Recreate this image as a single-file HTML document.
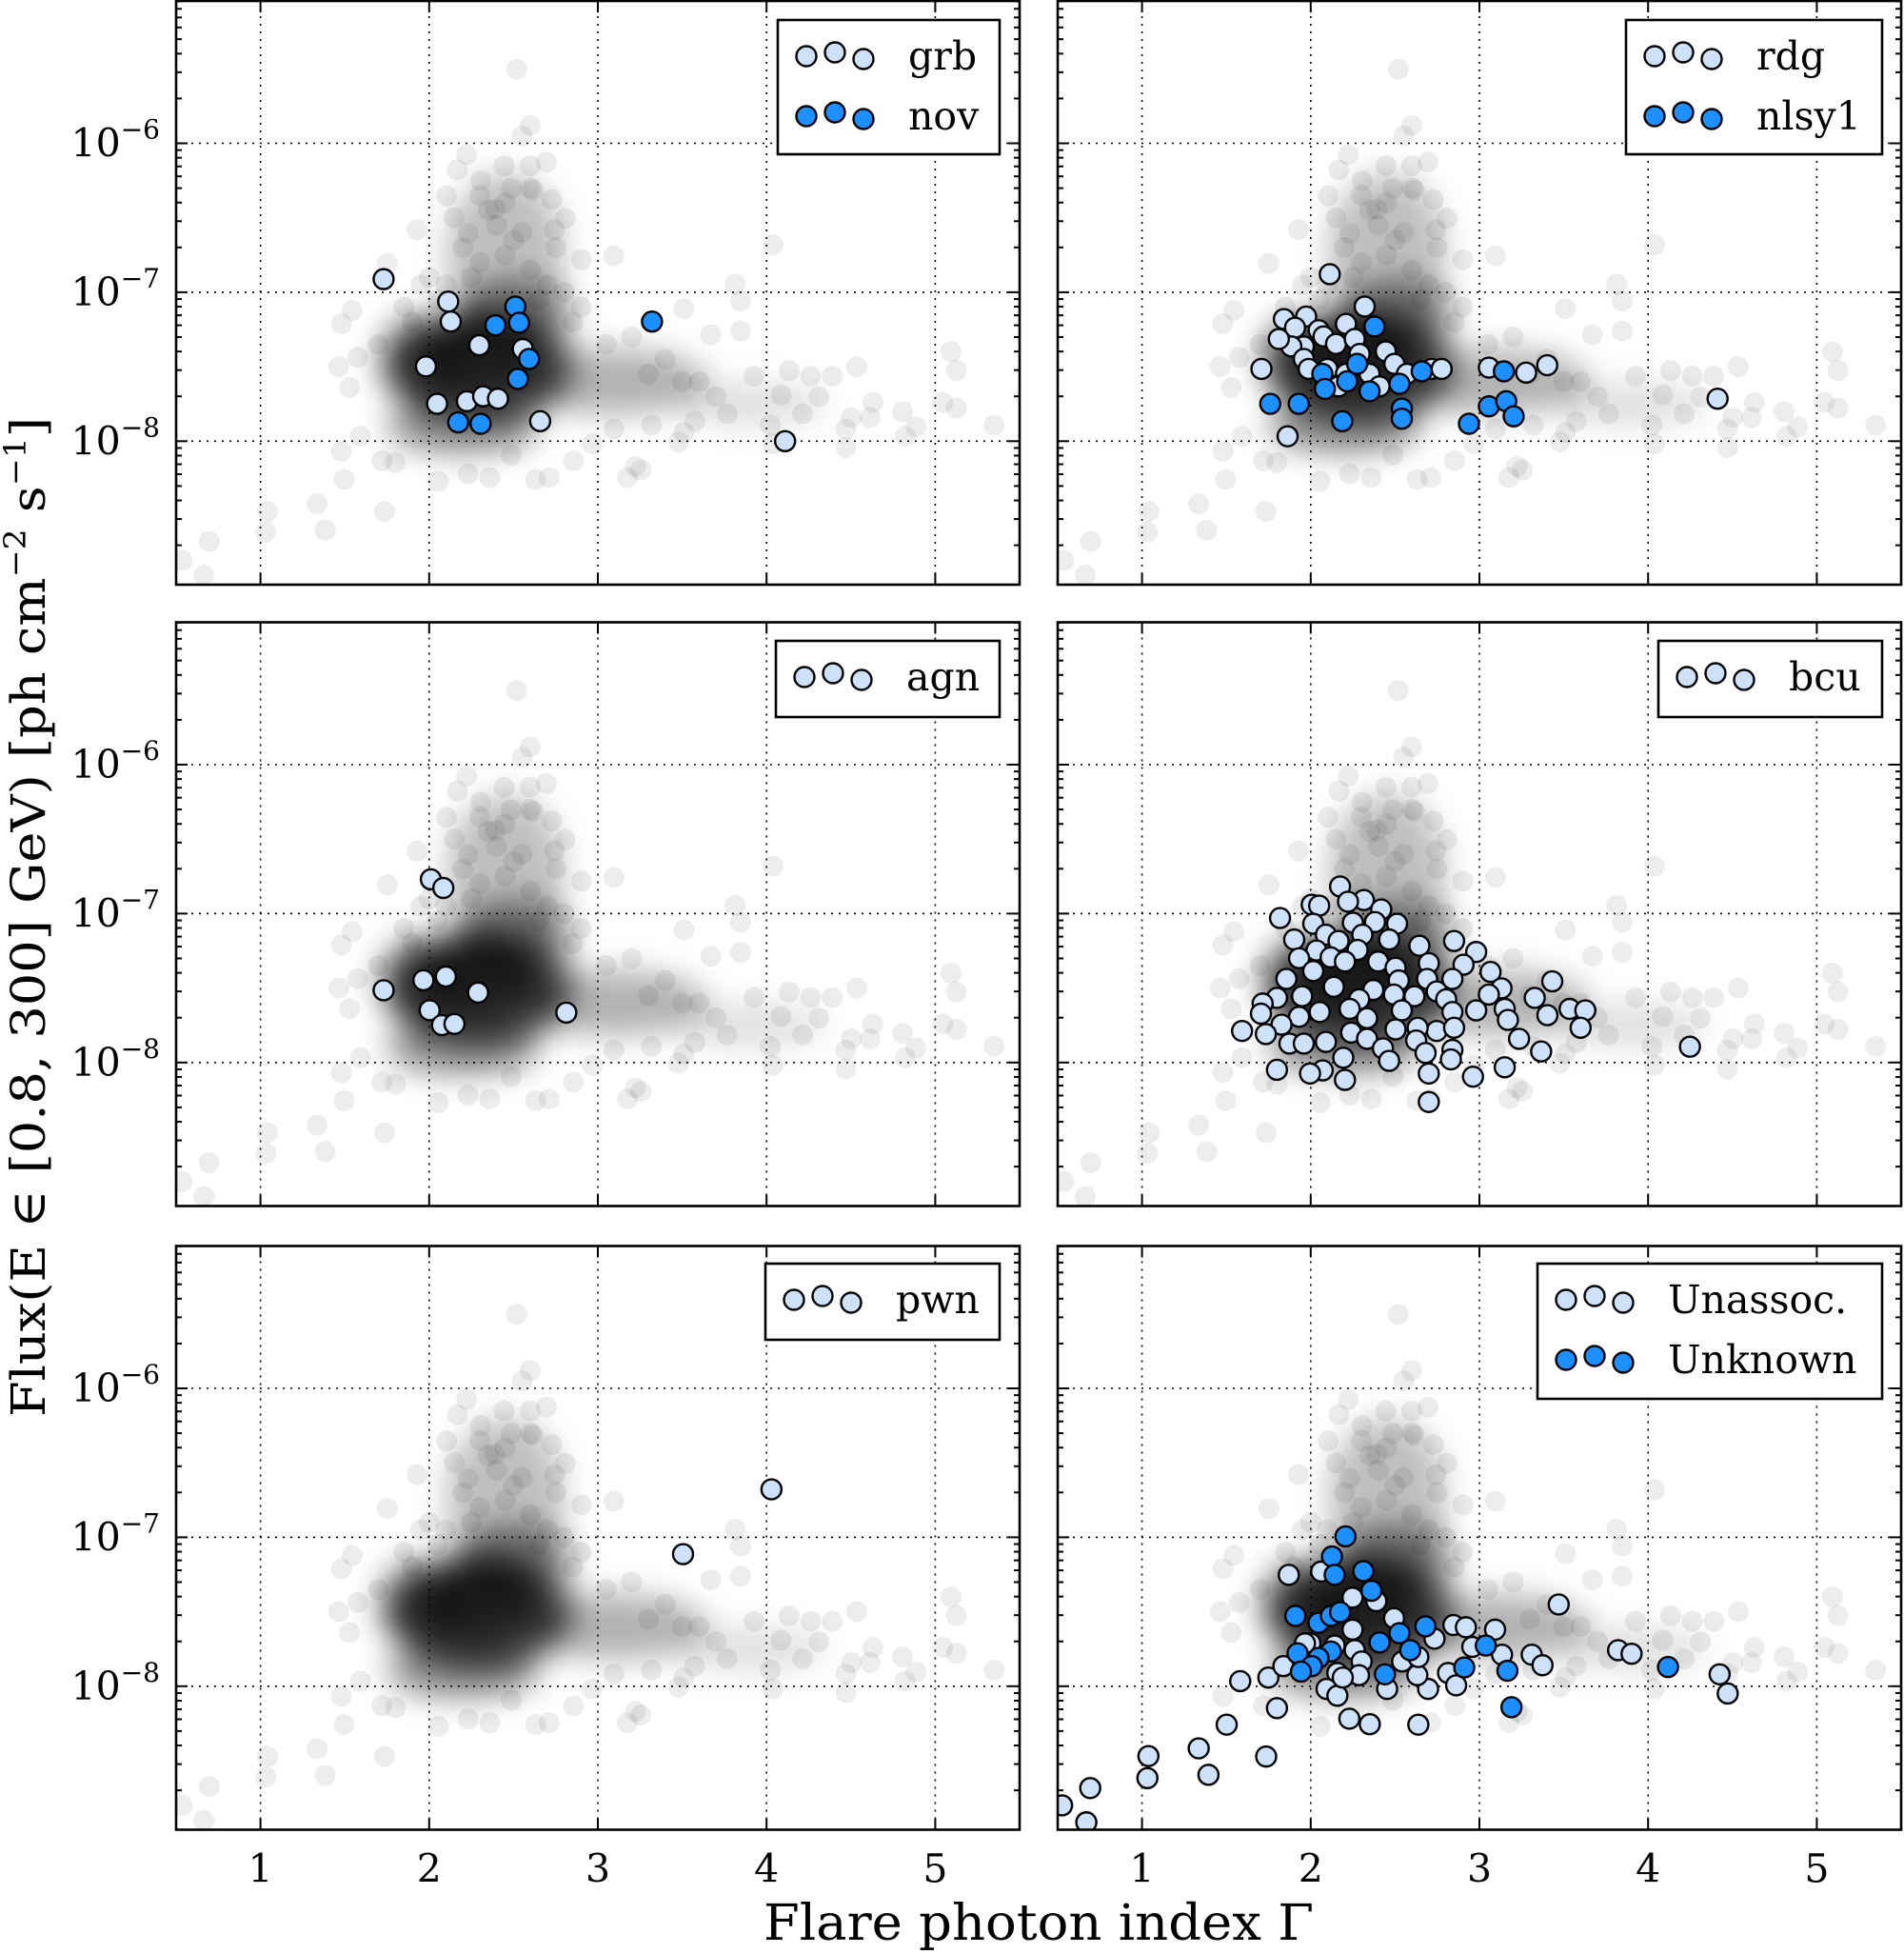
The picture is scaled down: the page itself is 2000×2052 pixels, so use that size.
<!DOCTYPE html>
<html><head><meta charset="utf-8">
<style>
html,body{margin:0;padding:0;background:#fff;}
svg{display:block;font-family:"DejaVu Serif","Liberation Serif",serif;}
</style></head>
<body>
<svg id="fig" xmlns="http://www.w3.org/2000/svg" width="2000" height="2052" viewBox="0 0 2000 2052">
<defs>
<clipPath id="pclip"><rect x="0" y="0" width="886" height="613"/></clipPath>
<filter id="blur" x="-100%" y="-100%" width="300%" height="300%"><feGaussianBlur stdDeviation="16"/></filter>
</defs>
</svg>
<script>
// ---------- data ----------
const bgIndex=[2.519,2.599,2.551,2.222,2.445,2.599,2.695,2.167,2.305,2.487,2.615,2.103,2.727,2.391,2.807,1.927,2.231,2.743,3.095,1.752,2.903,4.038,3.814,3.51,3.846,3.846,3.67,1.544,1.48,1.464,1.576,1.528,5.093,5.125,4.534,4.39,3.926,4.134,4.086,4.31,4.63,4.806,5.045,5.125,5.349,4.47,4.886,4.822,4.214,4.022,3.766,3.574,3.51,3.318,3.478,4.47,3.223,3.255,3.175,2.711,2.631,2.855,2.359,2.231,2.055,1.8,1.72,1.496,1.48,1.592,1.735,1.336,1.384,1.042,1.032,0.696,0.536,0.664,4.038,4.614,4.262,4.502,3.095,2.967,2.487,2.0,2.2,2.4,2.6,2.8,1.9,2.1,2.3,2.5,2.7,2.9,3.2,3.4,3.6,1.7,1.85,2.05,2.25,2.45,2.65,2.85,3.05,3.3,3.5,3.7,2.35,2.55,2.15,2.75,1.95,2.45,2.6,2.3];
const bgLogFlux=[-5.503,-5.881,-5.95,-6.076,-6.151,-6.151,-6.126,-6.177,-6.252,-6.303,-6.315,-6.353,-6.378,-6.441,-6.504,-6.58,-6.605,-6.58,-6.757,-6.807,-6.782,-6.681,-6.946,-7.11,-7.059,-7.261,-7.286,-7.122,-7.211,-7.5,-7.437,-7.639,-7.4,-7.526,-7.5,-7.564,-7.564,-7.526,-7.69,-7.702,-7.74,-7.803,-7.74,-7.778,-7.892,-7.917,-7.904,-7.967,-7.816,-7.892,-7.816,-7.866,-7.942,-7.892,-8.005,-8.043,-8.169,-8.194,-8.245,-8.245,-8.257,-8.131,-8.245,-8.219,-8.27,-8.144,-8.131,-8.257,-8.068,-7.967,-8.472,-8.421,-8.598,-8.472,-8.61,-8.673,-8.8,-8.9,-8.018,-7.841,-7.564,-7.841,-7.917,-8.018,-8.093,-6.9,-6.7,-6.55,-6.85,-7.0,-7.2,-6.95,-6.8,-6.65,-6.95,-7.1,-7.3,-7.45,-7.6,-7.35,-7.1,-7.05,-6.9,-6.75,-7.05,-7.2,-7.35,-7.55,-7.6,-7.7,-6.45,-6.6,-6.5,-6.7,-6.95,-6.4,-6.3,-6.35];
// density of the dense core: centre index, centre log flux, half-width (index), half-height (dex), opacity
const coreIndex=[2.3,2.3,2.45,3.1,3.9,2.2,1.95,2.5];
const coreLogFlux=[-7.5,-7.45,-6.75,-7.6,-7.75,-7.9,-7.45,-7.15];
const coreRx=[0.55,0.35,0.35,0.55,0.45,0.45,0.25,0.35];
const coreRy=[0.38,0.25,0.55,0.22,0.15,0.18,0.3,0.25];
const coreAlpha=[0.7,0.6,0.25,0.3,0.12,0.45,0.4,0.45];

const grbIndex=[1.73,2.113,2.128,1.981,2.297,2.047,2.224,2.32,2.408,2.555,2.658,4.11];
const grbLogFlux=[-6.912,-7.063,-7.197,-7.498,-7.356,-7.749,-7.732,-7.699,-7.715,-7.381,-7.866,-8.0];
const novIndex=[2.511,2.393,2.533,2.592,2.526,2.172,2.305,3.321];
const novLogFlux=[-7.096,-7.222,-7.205,-7.448,-7.582,-7.874,-7.883,-7.197];

const rdgIndex=[2.113,2.32,1.841,1.973,1.907,2.047,2.209,2.076,1.959,1.885,1.811,1.959,2.15,2.261,2.29,2.445,2.496,2.349,2.099,2.209,1.988,2.165,2.57,2.408,2.717,2.776,1.708,3.056,3.277,3.402,1.863,4.412];
const rdgLogFlux=[-6.879,-7.096,-7.18,-7.163,-7.238,-7.255,-7.213,-7.297,-7.364,-7.364,-7.314,-7.448,-7.347,-7.314,-7.414,-7.397,-7.481,-7.548,-7.515,-7.548,-7.515,-7.632,-7.548,-7.632,-7.515,-7.515,-7.515,-7.506,-7.54,-7.49,-7.967,-7.715];
const nlsy1Index=[2.378,2.275,2.069,1.76,1.929,2.187,2.084,2.216,2.349,2.526,2.658,2.54,2.54,3.056,3.145,3.159,3.203,2.938];
const nlsy1LogFlux=[-7.23,-7.481,-7.548,-7.749,-7.749,-7.866,-7.649,-7.598,-7.665,-7.615,-7.531,-7.782,-7.849,-7.766,-7.531,-7.732,-7.833,-7.883];

const agnIndex=[2.01,2.084,1.73,1.966,2.099,2.29,2.003,2.076,2.15,2.813];
const agnLogFlux=[-6.77,-6.828,-7.515,-7.448,-7.423,-7.531,-7.649,-7.749,-7.741,-7.665];

const bcuIndex=[2.174,2.315,2.221,2.006,2.05,2.418,1.818,2.015,2.25,2.381,2.512,2.306,2.09,1.902,2.165,2.465,2.85,2.644,2.278,2.034,1.931,2.118,2.981,2.7,2.4,2.503,2.203,2.015,2.906,3.066,1.856,2.69,2.84,2.137,2.371,2.522,2.747,3.131,3.432,1.8,1.949,1.715,2.287,2.493,2.615,2.803,3.056,3.328,2.053,2.231,2.54,2.84,2.981,3.15,3.535,3.628,3.403,1.705,1.931,2.334,1.827,3.169,1.593,1.734,2.503,2.747,2.85,2.634,3.6,1.874,1.959,2.09,2.24,2.334,2.625,2.428,3.235,3.366,2.193,2.681,2.84,2.831,2.465,2.071,1.996,1.8,2.203,2.7,2.962,3.15,2.7,4.248];
const bcuLogFlux=[-6.818,-6.909,-6.92,-6.94,-6.947,-6.972,-7.03,-7.068,-7.061,-7.057,-7.068,-7.142,-7.142,-7.174,-7.184,-7.174,-7.184,-7.216,-7.244,-7.248,-7.3,-7.294,-7.258,-7.333,-7.322,-7.364,-7.322,-7.386,-7.343,-7.392,-7.439,-7.439,-7.439,-7.492,-7.513,-7.449,-7.523,-7.502,-7.455,-7.566,-7.555,-7.604,-7.576,-7.544,-7.555,-7.576,-7.544,-7.566,-7.661,-7.64,-7.65,-7.661,-7.65,-7.64,-7.64,-7.65,-7.682,-7.672,-7.693,-7.703,-7.746,-7.714,-7.788,-7.809,-7.778,-7.788,-7.767,-7.767,-7.767,-7.873,-7.873,-7.862,-7.799,-7.841,-7.852,-7.905,-7.841,-7.926,-7.968,-7.936,-7.915,-7.979,-7.989,-8.053,-8.074,-8.049,-8.117,-8.074,-8.095,-8.032,-8.265,-7.894];

const pwnIndex=[3.505,4.029];
const pwnLogFlux=[-7.113,-6.678];

const unassocIndex=[0.526,0.67,0.693,1.038,1.032,1.336,1.394,1.502,1.736,1.582,1.749,1.8,1.87,2.062,1.838,2.248,2.389,2.248,2.494,1.998,2.142,2.261,2.302,2.158,2.094,2.158,2.229,2.35,2.638,2.453,2.696,2.632,2.734,2.846,2.92,2.958,3.093,3.134,3.31,3.374,3.47,3.822,3.902,4.424,4.472,2.814,2.862,2.542,2.286,2.638,1.966,2.19];
const unassocLogFlux=[-8.8,-8.914,-8.684,-8.469,-8.617,-8.417,-8.595,-8.258,-8.472,-7.966,-7.942,-8.147,-7.252,-7.23,-7.865,-7.405,-7.429,-7.62,-7.543,-7.712,-7.727,-7.758,-7.834,-7.911,-8.018,-8.064,-8.218,-8.255,-8.258,-8.018,-8.018,-7.926,-7.681,-7.589,-7.604,-7.736,-7.62,-7.788,-7.788,-7.859,-7.451,-7.758,-7.782,-7.92,-8.049,-7.911,-7.994,-7.834,-7.926,-7.804,-7.712,-7.942];
const unknownIndex=[2.206,2.126,2.142,2.312,2.36,1.909,2.046,2.12,2.174,2.408,2.526,2.59,2.68,3.038,2.12,2.046,1.922,2.006,1.942,2.44,2.91,3.166,3.19,4.118];
const unknownLogFlux=[-6.994,-7.129,-7.252,-7.227,-7.359,-7.528,-7.574,-7.528,-7.503,-7.706,-7.644,-7.758,-7.598,-7.727,-7.767,-7.81,-7.779,-7.865,-7.902,-7.92,-7.874,-7.896,-8.141,-7.871];

const xTicks=[1,2,3,4,5];
const xTickLabels=["1","2","3","4","5"];
const yTicks=[-6,-7,-8];
const yTickLabels=["\u22126","\u22127","\u22128"];

// ---------- layout ----------
const NS="http://www.w3.org/2000/svg";
const svg=document.getElementById('fig');
const PW=886, PH=613;
const panels=[
 {x:185,y:1,name:'grb-nov',light:[grbIndex,grbLogFlux,'grb'],dark:[novIndex,novLogFlux,'nov'],leg:[817,21,233,141],col:0,row:0},
 {x:1111,y:1,name:'rdg-nlsy1',light:[rdgIndex,rdgLogFlux,'rdg'],dark:[nlsy1Index,nlsy1LogFlux,'nlsy1'],leg:[1708,21,269,141],col:1,row:0},
 {x:185,y:653.5,name:'agn',light:[agnIndex,agnLogFlux,'agn'],dark:null,leg:[815,673,235,80],col:0,row:1},
 {x:1111,y:653.5,name:'bcu',light:[bcuIndex,bcuLogFlux,'bcu'],dark:null,leg:[1742,673,235,80],col:1,row:1},
 {x:185,y:1308.5,name:'pwn',light:[pwnIndex,pwnLogFlux,'pwn'],dark:null,leg:[804,1327,246,80],col:0,row:2},
 {x:1111,y:1308.5,name:'unassoc-unknown',light:[unassocIndex,unassocLogFlux,'Unassoc.'],dark:[unknownIndex,unknownLogFlux,'Unknown'],leg:[1615,1327,362,142],col:1,row:2}
];
function xOf(g){return (g-0.5)/5*PW;}
function yOf(l){return 149.5+(-6-l)*156.4;}
const LIGHT='#cde1f9', DARK='#1e8fff';

function mk(tag,attrs,parent){const e=document.createElementNS(NS,tag);for(const k in attrs)e.setAttribute(k,attrs[k]);(parent||svg).appendChild(e);return e;}

const defs=svg.querySelector('defs');
const cloud=mk('g',{id:'cloud'},defs);
const coreG=mk('g',{filter:'url(#blur)'},cloud);
for(let i=0;i<coreIndex.length;i++){
  mk('ellipse',{cx:xOf(coreIndex[i]),cy:yOf(coreLogFlux[i]),rx:coreRx[i]/5*PW,ry:coreRy[i]*156.4,fill:'#000','fill-opacity':coreAlpha[i]},coreG);
}
for(let i=0;i<bgIndex.length;i++){
  mk('circle',{cx:xOf(bgIndex[i]),cy:yOf(bgLogFlux[i]),r:11,fill:'#000','fill-opacity':0.07},cloud);
}

panels.forEach(p=>{
  const g=mk('g',{transform:`translate(${p.x},${p.y})`});
  
  
  xTicks.forEach(t=>{const l=mk('line',{x1:xOf(t),x2:xOf(t),y1:0,y2:PH,stroke:'#000','stroke-width':1.6,'stroke-dasharray':'2 6'},g);
    });
  yTicks.forEach(t=>{const l=mk('line',{x1:0,x2:PW,y1:yOf(t),y2:yOf(t),stroke:'#000','stroke-width':1.6,'stroke-dasharray':'2 6'},g);
    });
  const cg=mk('g',{'clip-path':'url(#pclip)'},g);
  const u=mk('use',{href:'#cloud'},cg);
  
  
  [[p.light,LIGHT],[p.dark,DARK]].forEach(([s,col])=>{
    if(!s)return;
    for(let i=0;i<s[0].length;i++){
      const c=mk('circle',{cx:xOf(s[0][i]),cy:yOf(s[1][i]),r:10.5,fill:col,stroke:'#000','stroke-width':2.4},cg);
      
      
    }
  });
  xTicks.forEach(t=>{mk('line',{x1:xOf(t),x2:xOf(t),y1:PH,y2:PH-12,stroke:'#000','stroke-width':2},g);mk('line',{x1:xOf(t),x2:xOf(t),y1:0,y2:12,stroke:'#000','stroke-width':2},g);});
  for(let d=-9;d<=-5;d++){for(let m=1;m<=9;m++){
    const l=d+Math.log10(m); if(l<-8.965||l>-5.04)continue;
    const y=yOf(l), len=(m===1)?12:6;
    mk('line',{x1:0,x2:len,y1:y,y2:y,stroke:'#000','stroke-width':2},g);
    mk('line',{x1:PW,x2:PW-len,y1:y,y2:y,stroke:'#000','stroke-width':2},g);
  }}
  const fr=mk('rect',{x:0,y:0,width:PW,height:PH,fill:'none',stroke:'#000','stroke-width':2.6},g);
  
  if(p.col===0){
    yTicks.forEach((t,i)=>{
      const tx=mk('text',{x:-17,y:yOf(t)+14,'text-anchor':'end','font-size':41,fill:'#000'},g);
      
      tx.appendChild(document.createTextNode('10'));
      const sp=mk('tspan',{'font-size':28,dy:-19},tx); sp.textContent=yTickLabels[i];
    });
  }
  if(p.row===2){
    xTicks.forEach((t,i)=>{
      const tx=mk('text',{x:xOf(t),y:PH+55,'text-anchor':'middle','font-size':41,fill:'#000'},g);
      
      tx.textContent=xTickLabels[i];
    });
  }
  const [lx,ly,lw,lh]=p.leg;
  const lg=mk('g',{});
  
  
  mk('rect',{x:lx,y:ly,width:lw,height:lh,fill:'#fff',stroke:'#000','stroke-width':2.6},lg);
  const rows=[[p.light,LIGHT]]; if(p.dark)rows.push([p.dark,DARK]);
  rows.forEach(([s,col],ri)=>{
    const cy=ly+38+ri*63;
    const ent=mk('g',{},lg);
    
    
    [[30,0],[60,-4],[90,3]].forEach(([dx,dy])=>mk('circle',{cx:lx+dx,cy:cy+dy,r:10.5,fill:col,stroke:'#000','stroke-width':2.4},ent));
    const t=mk('text',{x:lx+137,y:cy+14,'font-size':41,fill:'#000'},ent); t.textContent=s[2];
  });
});

const xl=mk('text',{x:1091,y:2037,'text-anchor':'middle','font-size':52,fill:'#000',textLength:578,lengthAdjust:'spacingAndGlyphs'});


xl.textContent='Flare photon index \u0393';
const yl=mk('text',{x:0,y:0,'text-anchor':'middle','font-size':50,fill:'#000',transform:'translate(47,963) rotate(-90)',textLength:1050,lengthAdjust:'spacingAndGlyphs'});


yl.appendChild(document.createTextNode('Flux(E \u2208 [0.8, 300] GeV) [ph cm'));
let s1=mk('tspan',{'font-size':32,dy:-20},yl); s1.textContent='\u22122';
let s2=mk('tspan',{dy:20},yl); s2.textContent=' s';
let s3=mk('tspan',{'font-size':32,dy:-20},yl); s3.textContent='\u22121';
let s4=mk('tspan',{dy:20},yl); s4.textContent=']';
</script>
</body></html>
